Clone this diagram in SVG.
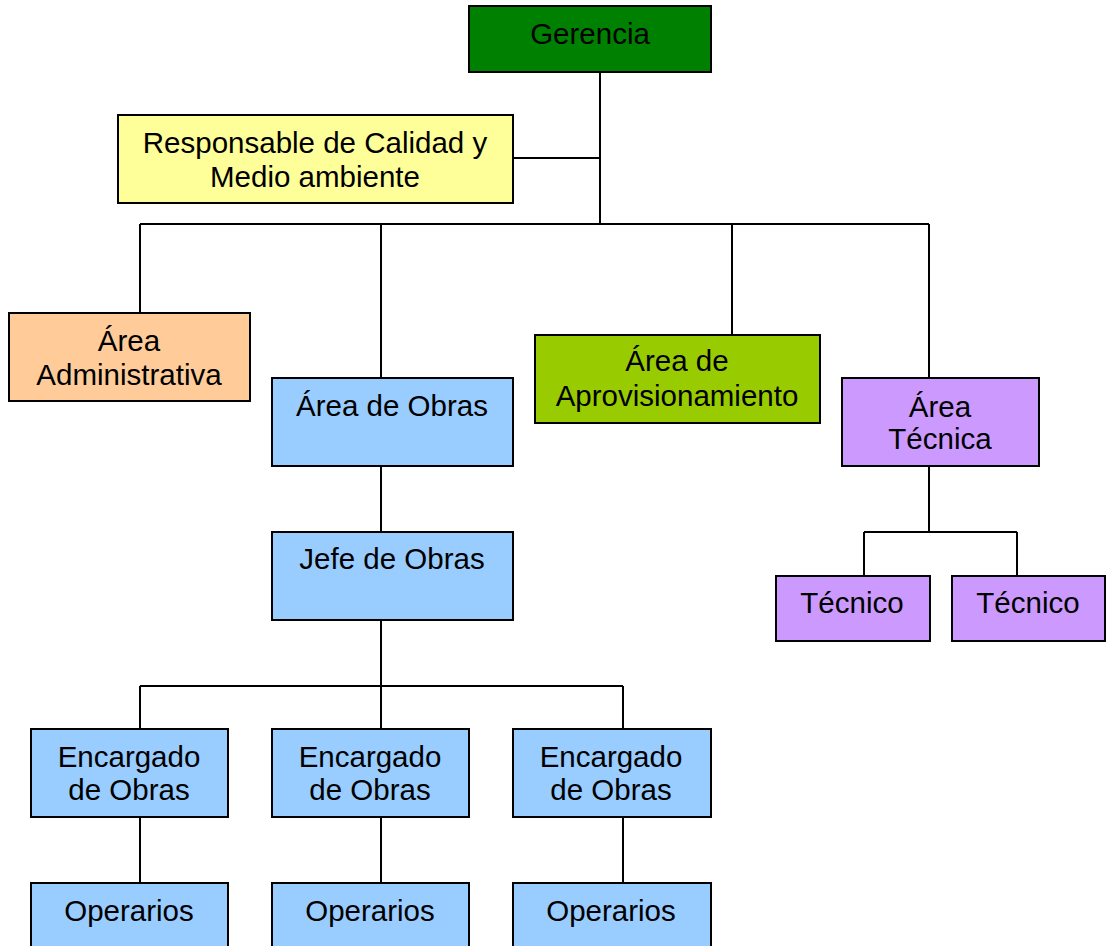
<svg xmlns="http://www.w3.org/2000/svg" width="1106" height="946" viewBox="0 0 1106 946">
  <style>
    .box { stroke: #000; stroke-width: 2; }
    .lbl { font-family: "Liberation Sans", Arial, sans-serif; font-size: 29.5px; fill: #000; text-anchor: middle; }
    .wire { stroke: #000; stroke-width: 2; fill: none; }
    .green { fill: #008000; }
    .yellow { fill: #ffff99; }
    .orange { fill: #ffcc99; }
    .blue { fill: #99ccff; }
    .lime { fill: #99cc00; }
    .violet { fill: #cc99ff; }
  </style>
  <rect width="1106" height="946" fill="#fff"/>

  <g id="connectors">
    <path class="wire" d="M600 72V224M513 158H600"/>
    <path class="wire" d="M140 224H929M140 224V313M381 224V378M732 224V335M929 224V378"/>
    <path class="wire" d="M381 466V532"/>
    <path class="wire" d="M381 620V686M140 686H623M140 686V729M381 686V729M623 686V729"/>
    <path class="wire" d="M140 817V883M381 817V883M623 817V883"/>
    <path class="wire" d="M929 466V532M864 532H1017M864 532V576M1017 532V576"/>
  </g>

  <g id="gerencia">
    <rect class="box green" x="469" y="6" width="242" height="66"/>
    <text class="lbl" x="590" y="44">Gerencia</text>
  </g>
  <g id="calidad">
    <rect class="box yellow" x="118" y="115" width="395" height="88"/>
    <text class="lbl" x="315" y="153">Responsable de Calidad y</text>
    <text class="lbl" x="315" y="187">Medio ambiente</text>
  </g>
  <g id="administrativa">
    <rect class="box orange" x="9" y="313" width="241" height="88"/>
    <text class="lbl" x="129" y="351">Área</text>
    <text class="lbl" x="129" y="385">Administrativa</text>
  </g>
  <g id="obras">
    <rect class="box blue" x="272" y="378" width="241" height="88"/>
    <text class="lbl" x="392" y="416">Área de Obras</text>
  </g>
  <g id="aprovisionamiento">
    <rect class="box lime" x="535" y="335" width="285" height="88"/>
    <text class="lbl" x="677" y="371">Área de</text>
    <text class="lbl" x="677" y="406">Aprovisionamiento</text>
  </g>
  <g id="tecnica">
    <rect class="box violet" x="842" y="378" width="197" height="88"/>
    <text class="lbl" x="940" y="417">Área</text>
    <text class="lbl" x="940" y="449">Técnica</text>
  </g>
  <g id="jefe-obras">
    <rect class="box blue" x="272" y="532" width="241" height="88"/>
    <text class="lbl" x="392" y="569">Jefe de Obras</text>
  </g>
  <g id="tecnico-1">
    <rect class="box violet" x="776" y="576" width="154" height="65"/>
    <text class="lbl" x="852" y="613">Técnico</text>
  </g>
  <g id="tecnico-2">
    <rect class="box violet" x="952" y="576" width="153" height="65"/>
    <text class="lbl" x="1028" y="613">Técnico</text>
  </g>
  <g id="encargado-1">
    <rect class="box blue" x="31" y="729" width="197" height="88"/>
    <text class="lbl" x="129" y="767">Encargado</text>
    <text class="lbl" x="129" y="800">de Obras</text>
  </g>
  <g id="encargado-2">
    <rect class="box blue" x="272" y="729" width="197" height="88"/>
    <text class="lbl" x="370" y="767">Encargado</text>
    <text class="lbl" x="370" y="800">de Obras</text>
  </g>
  <g id="encargado-3">
    <rect class="box blue" x="513" y="729" width="198" height="88"/>
    <text class="lbl" x="611" y="767">Encargado</text>
    <text class="lbl" x="611" y="800">de Obras</text>
  </g>
  <g id="operarios-1">
    <rect class="box blue" x="31" y="883" width="197" height="80"/>
    <text class="lbl" x="129" y="921">Operarios</text>
  </g>
  <g id="operarios-2">
    <rect class="box blue" x="272" y="883" width="197" height="80"/>
    <text class="lbl" x="370" y="921">Operarios</text>
  </g>
  <g id="operarios-3">
    <rect class="box blue" x="513" y="883" width="198" height="80"/>
    <text class="lbl" x="611" y="921">Operarios</text>
  </g>
</svg>
